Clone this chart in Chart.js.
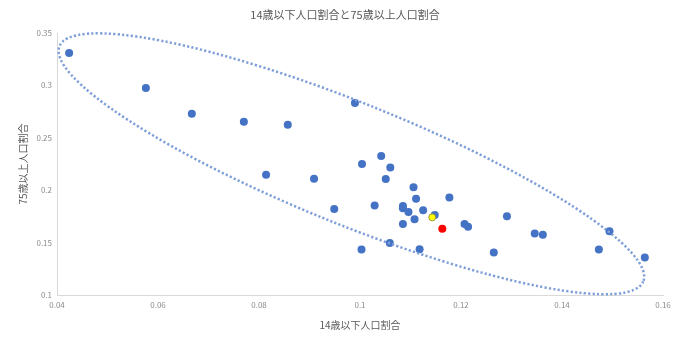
<!DOCTYPE html>
<html>
<head>
<meta charset="utf-8">
<script src="https://cdn.jsdelivr.net/npm/chart.js@4.4.0/dist/chart.umd.min.js"></script>
<style>
    html, body { margin: 0; padding: 0; background: #fff; }
    #wrap { width: 690px; height: 338px; }
</style>
</head>
<body>
<div id="wrap"><canvas id="scatterChart"></canvas></div>
<script>
// 14歳以下人口割合 (x) / 75歳以上人口割合 (y)
const under14 = [0.0424, 0.0576, 0.0667, 0.0770, 0.0857, 0.0990, 0.0814, 0.0909, 0.1004, 0.1042,
                 0.1060, 0.1051, 0.0949, 0.1029, 0.1106, 0.1111, 0.1177, 0.1085, 0.1085, 0.1096,
                 0.1125, 0.1148, 0.1108, 0.1085, 0.1207, 0.1214, 0.1059, 0.1003, 0.1118, 0.1291,
                 0.1346, 0.1362, 0.1265, 0.1473, 0.1494, 0.1564];
const over75 = [0.3310, 0.2976, 0.2729, 0.2652, 0.2624, 0.2833, 0.2148, 0.2110, 0.2249, 0.2326,
                0.2217, 0.2107, 0.1821, 0.1855, 0.2027, 0.1919, 0.1931, 0.1850, 0.1827, 0.1792,
                0.1808, 0.1764, 0.1722, 0.1678, 0.1678, 0.1652, 0.1497, 0.1433, 0.1436, 0.1751,
                0.1586, 0.1576, 0.1405, 0.1433, 0.1608, 0.1357];
const yellowPoint = [0.1143, 0.1741];
const redPoint = [0.1163, 0.1633];

const xTicks = [0.04, 0.06, 0.08, 0.1, 0.12, 0.14, 0.16];
const yTicks = [0.1, 0.15, 0.2, 0.25, 0.3, 0.35];

// 点線の楕円 (データ座標で中心と長軸の端)
const ellipseCenter = [0.0983, 0.2252];
const ellipseTip = [0.1561, 0.1130];
const ellipseRatio = 0.1935;

document.addEventListener('DOMContentLoaded', function () {
    const ctx = document.getElementById('scatterChart').getContext('2d');
    const fontFamily = '"Noto Sans CJK JP", "Noto Sans", sans-serif';

    const ellipsePlugin = {
        id: 'ellipse',
        afterDatasetsDraw(chart) {
            const { ctx, scales: { x, y } } = chart;
            const cx = x.getPixelForValue(ellipseCenter[0]);
            const cy = y.getPixelForValue(ellipseCenter[1]);
            const tx = x.getPixelForValue(ellipseTip[0]);
            const ty = y.getPixelForValue(ellipseTip[1]);
            const a = Math.hypot(tx - cx, ty - cy);
            const rot = Math.atan2(ty - cy, tx - cx);
            ctx.save();
            ctx.strokeStyle = '#7F9FD9';
            ctx.lineWidth = 2.5;
            ctx.setLineDash([2.2, 2.2]);
            ctx.beginPath();
            ctx.ellipse(cx, cy, a, a * ellipseRatio, rot, 0, Math.PI * 2);
            ctx.stroke();
            ctx.restore();
        }
    };

    const fmt = v => String(+Number(v).toFixed(2));

    new Chart(ctx, {
        type: 'scatter',
        data: {
            datasets: [
                {
                    data: [{ x: redPoint[0], y: redPoint[1] }],
                    backgroundColor: '#FF0000',
                    borderColor: '#FF0000',
                    pointRadius: 4,
                    borderWidth: 0,
                },
                {
                    data: [{ x: yellowPoint[0], y: yellowPoint[1] }],
                    backgroundColor: '#FFFF00',
                    borderColor: '#7F7F40',
                    pointRadius: 3.5,
                    borderWidth: 0.8,
                },
                {
                    data: under14.map((v, i) => ({ x: v, y: over75[i] })),
                    backgroundColor: '#4472C4',
                    borderColor: '#4472C4',
                    pointRadius: 4,
                    borderWidth: 0,
                },
            ],
        },
        options: {
            responsive: true,
            maintainAspectRatio: false,
            animation: false,
            layout: { padding: 0 },
            plugins: {
                legend: { display: false },
                tooltip: { enabled: false },
                title: {
                    display: true,
                    text: '14歳以下人口割合と75歳以上人口割合',
                    color: '#595959',
                    font: { family: fontFamily, size: 11, weight: 'normal' },
                    padding: { top: 8, bottom: 11.8 },
                },
            },
            scales: {
                x: {
                    type: 'linear',
                    min: xTicks[0],
                    max: xTicks[xTicks.length - 1],
                    afterFit: s => { s.height = 43; },
                    afterBuildTicks: s => { s.ticks = xTicks.map(v => ({ value: v })); },
                    grid: { display: false, drawTicks: false },
                    border: { display: true, color: '#D9D9D9', width: 1 },
                    ticks: {
                        color: '#8C8C8C',
                        padding: 5,
                        font: { family: fontFamily, size: 8 },
                        callback: fmt,
                    },
                    title: {
                        display: true,
                        text: '14歳以下人口割合',
                        color: '#595959',
                        font: { family: fontFamily, size: 10 },
                        padding: { top: 0, bottom: 7 },
                    },
                },
                y: {
                    type: 'linear',
                    min: yTicks[0],
                    max: yTicks[yTicks.length - 1],
                    afterFit: s => { s.width = 57; },
                    afterBuildTicks: s => { s.ticks = yTicks.map(v => ({ value: v })); },
                    grid: { display: false, drawTicks: false },
                    border: { display: true, color: '#D9D9D9', width: 1 },
                    ticks: {
                        color: '#8C8C8C',
                        padding: 5,
                        font: { family: fontFamily, size: 8 },
                        callback: fmt,
                    },
                    title: {
                        display: true,
                        text: '75歳以上人口割合',
                        color: '#595959',
                        font: { family: fontFamily, size: 10 },
                        padding: { top: 17, bottom: 0 },
                    },
                },
                // 右側の余白用の空の軸
                yRight: {
                    type: 'linear',
                    position: 'right',
                    min: yTicks[0],
                    max: yTicks[yTicks.length - 1],
                    afterFit: s => { s.width = 27; },
                    grid: { display: false, drawTicks: false },
                    border: { display: false },
                    ticks: { display: false },
                },
            },
        },
        plugins: [ellipsePlugin],
    });
});
</script>
</body>
</html>
